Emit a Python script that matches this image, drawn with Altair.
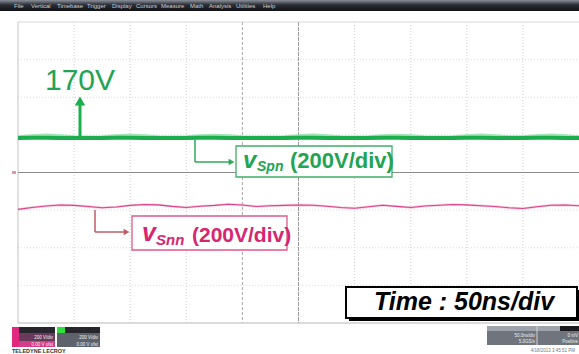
import altair as alt
import pandas as pd

# ---------------- data (time in ns: 50 ns/div, voltage in V: 200 V/div) ----------------
t_ns = [0, 12.5, 25, 37.5, 50, 62.5, 75, 87.5, 100, 112.5, 125, 137.5, 150, 162.5, 175,
        187.5, 200, 212.5, 225, 237.5, 250, 262.5, 275, 287.5, 300, 312.5, 325, 337.5,
        350, 362.5, 375, 387.5, 400, 412.5, 425, 437.5, 450, 462.5, 475, 487.5, 500]

v_spn = [184, 185, 185, 184, 184, 184, 184, 185, 185, 184, 184, 184, 184, 185, 185, 184,
         184, 184, 184, 184, 185, 185, 184, 184, 184, 184, 185, 185, 184, 184, 184, 184,
         185, 185, 184, 184, 184, 185, 185, 184, 184]

v_spn_env = [190, 196, 199, 196, 190, 189, 190, 196, 199, 196, 190, 189, 190, 196, 198, 195,
             190, 189, 189, 190, 196, 199, 196, 190, 189, 190, 195, 198, 195, 190, 189, 190,
             196, 199, 196, 190, 190, 196, 199, 196, 190]

v_snn = [-196, -186, -178, -173, -175, -181, -187, -183, -175, -170, -172, -180, -186, -179,
         -175, -169, -173, -181, -177, -175, -173, -174, -179, -186, -190, -182, -174, -180,
         -186, -178, -174, -170, -172, -177, -181, -187, -191, -182, -174, -173, -177]

grid_t = [50, 100, 150, 200, 250, 300, 350, 400, 450]
grid_v = [-600, -400, -200, 200, 400, 600]

menu_items = ["File", "Vertical", "Timebase", "Trigger", "Display", "Cursors",
              "Measure", "Math", "Analysis", "Utilities", "Help"]
menu_px = [14, 31, 57, 87, 112, 136, 161, 190, 209, 236, 263]

# ---------------- geometry helpers (pixel -> data through the same scales) ----------------
PX0, PW, PY0, PH = 18, 561, 22, 301
def T(px):
    return (px - PX0) * 500 / PW
def V(py):
    return 800 - (py - PY0) * 1600 / PH

xs = alt.Scale(domain=[0, 500], nice=False, zero=False)
ys = alt.Scale(domain=[-800, 800], nice=False, zero=False)
FONT = "Liberation Sans"

def seg(rows, **kw):
    df = pd.DataFrame(rows, columns=["x", "y", "x2", "y2"])
    return alt.Chart(df).mark_rule(**kw).encode(
        x=alt.X("x:Q", scale=xs, axis=None), y=alt.Y("y:Q", scale=ys, axis=None),
        x2="x2:Q", y2="y2:Q")

def box(rows, **kw):
    df = pd.DataFrame(rows, columns=["x", "y", "x2", "y2"])
    return alt.Chart(df).mark_rect(**kw).encode(
        x=alt.X("x:Q", scale=xs, axis=None), y=alt.Y("y:Q", scale=ys, axis=None),
        x2="x2:Q", y2="y2:Q")

def txt(rows, **kw):
    df = pd.DataFrame(rows, columns=["x", "y", "label"])
    return alt.Chart(df).mark_text(font=FONT, **kw).encode(
        x=alt.X("x:Q", scale=xs, axis=None), y=alt.Y("y:Q", scale=ys, axis=None),
        text="label:N")

def pt(rows, **kw):
    df = pd.DataFrame(rows, columns=["x", "y"])
    return alt.Chart(df).mark_point(**kw).encode(
        x=alt.X("x:Q", scale=xs, axis=None), y=alt.Y("y:Q", scale=ys, axis=None))

layers = []

# menu bar
grad = alt.LinearGradient(gradient="linear",
                          stops=[alt.GradientStop(color="#8a8f9a", offset=0),
                                 alt.GradientStop(color="#2a2c33", offset=0.45),
                                 alt.GradientStop(color="#121317", offset=1)],
                          x1=0, x2=0, y1=0, y2=1)
layers.append(box([[T(0), V(0), T(579), V(11)]], fill=grad))
layers.append(txt([[T(p), V(8), m] for p, m in zip(menu_px, menu_items)],
                  align="left", baseline="alphabetic", fontSize=6, color="#cfd0d4"))

# grid
layers.append(seg([[t, V(PY0), t, V(PY0 + PH)] for t in grid_t if t not in (200, 250)],
                  color="#cfcfcf", strokeWidth=1, strokeDash=[1, 2]))
layers.append(seg([[200, V(PY0), 200, V(PY0 + PH)]], color="#a8a8a8", strokeWidth=1, strokeDash=[3, 2]))
layers.append(seg([[250, V(PY0), 250, V(PY0 + PH)]], color="#9a9a9a", strokeWidth=1, strokeDash=[4, 1]))
layers.append(seg([[0, v, 500, v] for v in grid_v], color="#dcdcdc", strokeWidth=1, strokeDash=[1, 2]))
# borders / reference
layers.append(seg([[0, 800, 500, 800]], color="#d8d8d8", strokeWidth=1))
layers.append(seg([[0, -800, 500, -800]], color="#b8b8b8", strokeWidth=1))
layers.append(seg([[0, -800, 0, 800]], color="#c4c4c4", strokeWidth=1))
layers.append(seg([[0, 0, 500, 0]], color="#8c8c8c", strokeWidth=1))
layers.append(seg([[T(12), 3, T(16), 3], [T(12), -3, T(16), -3]], color="#c06080", strokeWidth=1))

# traces
traces = pd.DataFrame({"t": t_ns, "spn": v_spn, "env": v_spn_env, "snn": v_snn})
base = alt.Chart(traces)
layers.append(base.mark_line(color="#8fdca6", strokeWidth=3, opacity=0.8).encode(
    x=alt.X("t:Q", scale=xs, axis=None), y=alt.Y("env:Q", scale=ys, axis=None)))
layers.append(base.mark_line(color="#1cae4c", strokeWidth=4).encode(
    x=alt.X("t:Q", scale=xs, axis=None), y=alt.Y("spn:Q", scale=ys, axis=None)))
layers.append(base.mark_line(color="#f2a6c4", strokeWidth=2.4, opacity=0.6).encode(
    x=alt.X("t:Q", scale=xs, axis=None), y=alt.Y("snn:Q", scale=ys, axis=None)))
layers.append(base.mark_line(color="#d9448a", strokeWidth=1.1).encode(
    x=alt.X("t:Q", scale=xs, axis=None), y=alt.Y("snn:Q", scale=ys, axis=None)))

# 170V arrow + label
GREEN_TXT = "#22a454"
layers.append(seg([[T(80), V(137), T(80), V(103)]], color="#1cae4c", strokeWidth=3))
layers.append(pt([[T(80), V(101)]], shape="triangle-up", filled=True, size=110,
                 color="#1cae4c", opacity=1))
layers.append(txt([[T(45), V(90), "170V"]], align="left", baseline="alphabetic",
                  fontSize=30, color=GREEN_TXT))

# green connector + box
layers.append(seg([[T(195), V(140), T(195), V(162)], [T(195), V(162), T(229), V(162)]],
                  color="#2ea85a", strokeWidth=1.5))
layers.append(pt([[T(231.5), V(162)]], shape="triangle-right", filled=True, size=45,
                 color="#2ea85a", opacity=1))
layers.append(box([[T(236), V(146), T(392), V(177)]], fill="white", stroke="#3eae68",
                  strokeWidth=1.3))
layers.append(txt([[T(243), V(168), "v"]], align="left", baseline="alphabetic", fontSize=24,
                  fontWeight="bold", fontStyle="italic", color=GREEN_TXT))
layers.append(txt([[T(257), V(171), "Spn"]], align="left", baseline="alphabetic", fontSize=14,
                  fontWeight="bold", fontStyle="italic", color=GREEN_TXT))
layers.append(txt([[T(290), V(168), "(200V/div)"]], align="left", baseline="alphabetic",
                  fontSize=22, fontWeight="bold", color=GREEN_TXT))

# red connector + box
RED_TXT = "#d72670"
layers.append(seg([[T(95), V(210), T(95), V(232)], [T(95), V(232), T(124), V(232)]],
                  color="#bf5c66", strokeWidth=1.5))
layers.append(pt([[T(126.5), V(232)]], shape="triangle-right", filled=True, size=45,
                 color="#bf5c66", opacity=1))
layers.append(box([[T(132), V(216), T(287), V(250)]], fill="white", stroke="#e0588e",
                  strokeWidth=1.3))
layers.append(txt([[T(142), V(241), "v"]], align="left", baseline="alphabetic", fontSize=25,
                  fontWeight="bold", fontStyle="italic", color=RED_TXT))
layers.append(txt([[T(156), V(245), "Snn"]], align="left", baseline="alphabetic", fontSize=15,
                  fontWeight="bold", fontStyle="italic", color=RED_TXT))
layers.append(txt([[T(192), V(242), "(200V/div)"]], align="left", baseline="alphabetic",
                  fontSize=21, fontWeight="bold", color=RED_TXT))

# time box
layers.append(box([[T(349), V(290), T(580), V(321)]], fill="#000000"))
layers.append(box([[T(346), V(287), T(577), V(318)]], fill="white", stroke="#000000",
                  strokeWidth=2))
layers.append(txt([[T(464), V(310), "Time : 50ns/div"]], align="center", baseline="alphabetic",
                  fontSize=25, fontWeight="bold", fontStyle="italic", color="#000000"))

# bottom-left channel indicators
layers.append(box([[T(12), V(327), T(55), V(347)]], fill="#6a3a5c"))
layers.append(box([[T(12), V(341), T(55), V(347)]], fill="#d23c88"))
layers.append(box([[T(12), V(327), T(55), V(333)]], fill="#26262c"))
layers.append(box([[T(12), V(327), T(19), V(347)]], fill="#e0287e"))
layers.append(box([[T(57), V(327), T(100), V(347)]], fill="#5e636b"))
layers.append(box([[T(57), V(327), T(100), V(333)]], fill="#26262c"))
layers.append(box([[T(57), V(327), T(65), V(333)]], fill="#2fe03c"))
layers.append(txt([[T(53), V(339), "200 V/div"], [T(53), V(346), "0.00 V ofst"],
                   [T(98), V(339), "200 V/div"], [T(98), V(346), "0.00 V ofst"]],
                  align="right", baseline="alphabetic", fontSize=4.5, color="#f0f0f0"))
layers.append(txt([[T(12), V(353), "TELEDYNE LECROY"]], align="left", baseline="alphabetic",
                  fontSize=5.5, fontWeight="bold", color="#333333"))

# bottom-right status boxes
layers.append(box([[T(487), V(326), T(579), V(345)]], fill="#6f747d"))
layers.append(box([[T(487), V(326), T(579), V(331)]], fill="#9ea3ab"))
layers.append(box([[T(560), V(326), T(579), V(331)]], fill="#1a1a1e"))
layers.append(seg([[T(537), V(326), T(537), V(345)]], color="#d0d0d0", strokeWidth=1))
layers.append(txt([[T(535), V(337), "50.0ns/div"], [T(535), V(343), "5.0GS/s"],
                   [T(578), V(337), "0 mV"], [T(578), V(343), "Positive"]],
                  align="right", baseline="alphabetic", fontSize=4.5, color="#eeeeee"))
layers.append(txt([[T(575), V(352), "4/18/2013 3:45:51 PM"]], align="right",
                  baseline="alphabetic", fontSize=4.5, color="#777777"))

chart = alt.layer(*layers).properties(
    width=PW, height=PH,
    padding={"left": PX0, "top": PY0, "right": 0, "bottom": 354 - PY0 - PH},
    autosize=alt.AutoSizeParams(type="none"),
    background="white",
).configure_view(stroke=None)

chart.save("out.html", embed_options={"renderer": "svg", "actions": False})
